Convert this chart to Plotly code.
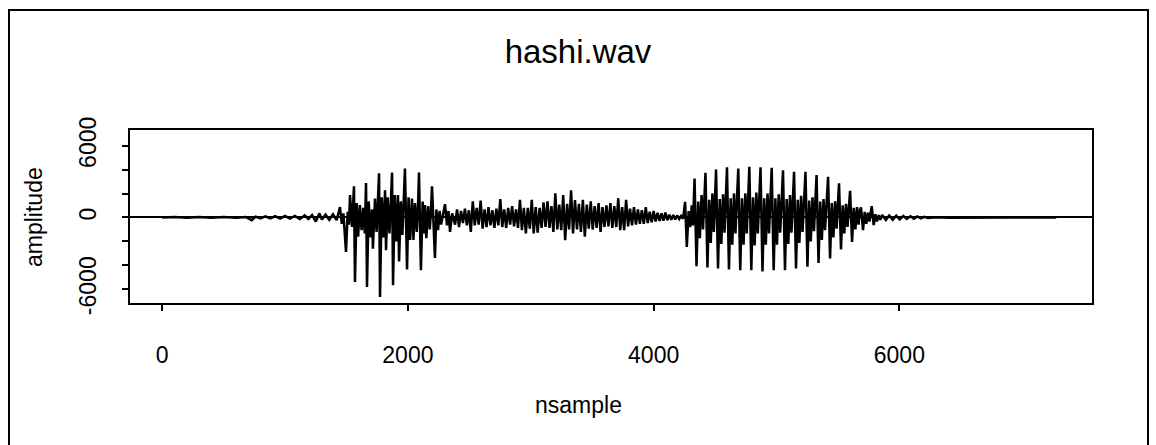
import plotly.graph_objects as go

# ---- waveform (sample index, amplitude) ----
pre_x = [0, 100, 200, 300, 400, 500, 600, 680, 728, 760, 800, 840, 880, 920, 960, 1000,
         1040, 1080, 1120, 1160, 1190, 1220, 1250, 1280, 1300, 1330, 1360, 1390, 1420]
pre_y = [0, 30, -30, 30, -30, 30, -30, 40, -230, 70, -70, 100, -80, 100, -100, 130,
         -100, 130, -130, 170, -130, 200, -340, 340, -170, 230, -200, 270, -230]

burst1_x = [1447, 1462, 1475, 1496, 1510, 1520, 1529, 1545,
            1561, 1569, 1583, 1595, 1609, 1623, 1637, 1649,
            1659, 1667, 1681, 1696, 1708, 1715, 1732, 1745, 1755,
            1765, 1773, 1787, 1800, 1814, 1822, 1835, 1850, 1862,
            1871, 1879, 1893, 1905, 1919, 1928, 1942, 1955, 1966,
            1976, 1993, 2005, 2018, 2033, 2045, 2058, 2072, 2082,
            2090, 2106, 2120, 2130, 2139, 2150, 2165, 2178, 2188,
            2196, 2220, 2232, 2245, 2258, 2270, 2288, 2302, 2318, 2330, 2343, 2360]
burst1_y = [870, -540, 340, -2880, 470, -600, 1880, -800,
            2610, -5400, 1210, -1610, 1030, -1070, 800, -1340,
            2880, -5810, 1340, -1680, 670, -2610, 1590, -1210, 1010,
            3690, -6650, 1680, -1680, 2280, -2750, 1680, -1340, 1210,
            3750, -5670, 1880, -2010, 1870, -3690, 1340, -1470, 1010,
            4090, -4360, 1680, -1880, 1590, -1880, 1210, -1210, 800,
            3750, -4420, 1340, -1340, 1030, -1740, 940, -1010, 600,
            2610, -3390, 670, -1070, 540, -600, 400, 1110, -670, 540, -1210, 340]

noise_x = [2384, 2400, 2416, 2432, 2448, 2464, 2480, 2496, 2512, 2528, 2544, 2560, 2576, 2592,
           2608, 2624, 2640, 2656, 2672, 2688, 2704, 2720, 2736, 2752, 2768, 2784, 2800, 2816,
           2832, 2848, 2864, 2880, 2896, 2912, 2928, 2944, 2960, 2976, 2992, 3008, 3024, 3040,
           3056, 3072, 3088, 3104, 3120, 3136, 3152, 3168, 3184, 3200, 3216, 3232, 3248, 3264,
           3280, 3296, 3312, 3328, 3344, 3360, 3376, 3392, 3408, 3424, 3440, 3456, 3472, 3488,
           3504, 3520, 3536, 3552, 3568, 3584, 3600, 3616, 3632, 3648, 3664, 3680, 3696, 3712,
           3728, 3744, 3760, 3776, 3792, 3808, 3824, 3840, 3856, 3872, 3888, 3904, 3920, 3936,
           3952, 3968, 3984, 4000, 4016, 4032, 4048, 4064, 4080, 4096, 4112, 4128, 4144, 4160,
           4176, 4192, 4208, 4224, 4240]
noise_y = [-600, 670, -800, 540, -470, 740, -670, 600, -1210, 1340, -670, 800, -600, 1410,
           -940, 670, -800, 870, -670, 600, -870, 740, -670, 1540, -800, 670, -870, 800,
           -600, 940, -740, 670, -870, 1470, -1070, 800, -1340, 800, -940, 1470, -1340, 870,
           -1270, 800, -870, 1270, -800, 1340, -870, 940, -1210, 2010, -1010, 1070, -1070, 1880,
           -1900, 1140, -1010, 2280, -1340, 1450, -1010, 1140, -1210, 1470, -1610, 1070, -940, 1340,
           -1010, 940, -870, 1210, -1210, 870, -800, 1010, -740, 1210, -870, 940, -800, 1610,
           -1070, 870, -1070, 1470, -740, 740, -670, 870, -600, 670, -540, 600, -540, 870,
           -470, 470, -400, 540, -340, 400, -300, 340, -270, 400, -230, 230, -200, 200,
           -170, 170, -130, 130, -100]

burst2_x = [4256, 4270, 4285, 4298, 4310, 4320,
            4333, 4349, 4363, 4376, 4390, 4402, 4412,
            4422, 4438, 4452, 4465, 4478, 4490, 4499,
            4508, 4524, 4538, 4551, 4565, 4577, 4588,
            4597, 4613, 4627, 4640, 4654, 4666, 4678,
            4689, 4705, 4719, 4732, 4746, 4758, 4769,
            4779, 4795, 4809, 4822, 4836, 4848, 4860,
            4870, 4886, 4900, 4913, 4927, 4939, 4951,
            4961, 4977, 4991, 5004, 5018, 5030, 5042,
            5053, 5069, 5083, 5096, 5110, 5122, 5133,
            5143, 5159, 5173, 5186, 5200, 5212, 5225,
            5236, 5252, 5266, 5279, 5293, 5305, 5316,
            5326, 5342, 5356, 5369, 5383, 5395, 5408,
            5420, 5436, 5450, 5463, 5477, 5489, 5499,
            5509, 5525, 5539, 5552, 5566, 5578, 5589,
            5599, 5615, 5629, 5642, 5656, 5668, 5678,
            5688, 5704, 5718, 5731, 5745, 5757, 5766,
            5775, 5791, 5805, 5818, 5832, 5845]
burst2_y = [1310, -2460, 540, -800, 1010, -670,
            3260, -4080, 1340, -1740, 1880, -1010, 940,
            3740, -4190, 1470, -2140, 2010, -1210, 1010,
            4020, -4270, 1540, -2210, 1940, -1270, 1070,
            4190, -4360, 1610, -2280, 2010, -1340, 1070,
            4100, -4420, 1610, -2280, 2010, -1340, 1070,
            4240, -4420, 1680, -2350, 2080, -1340, 1140,
            4190, -4520, 1610, -2280, 2010, -1340, 1070,
            4150, -4420, 1610, -2280, 1940, -1270, 1070,
            3950, -4420, 1540, -2210, 1880, -1270, 1010,
            3820, -4270, 1470, -2140, 1810, -1210, 1010,
            3820, -4130, 1410, -2010, 1680, -1140, 940,
            3540, -3800, 1340, -1880, 1540, -1070, 870,
            3400, -3440, 1210, -1680, 1340, -940, 800,
            2850, -2680, 1010, -1340, 1140, -800, 670,
            2230, -2040, 800, -1010, 870, -600, 540,
            840, -1070, 470, -540, 400, -340, 340,
            940, -640, 270, -340, 200, -200]

tail_x = [5860, 5890, 5918, 5946, 5975, 6003, 6032, 6060, 6090, 6118, 6146, 6175, 6203,
          6232, 6300, 6400, 6600, 6900, 7277]
tail_y = [200, -200, 170, -190, 150, -170, 130, -130, 100, -100, 80, -70, 50,
          -40, 20, -15, 10, 0, 0]

x_ticks = [0, 2000, 4000, 6000]
x_tick_labels = ["0", "2000", "4000", "6000"]
y_ticks = [-6000, -4000, -2000, 0, 2000, 4000, 6000]
y_tick_labels = ["-6000", "", "", "0", "", "", "6000"]

title_text = "hashi.wav"
x_label = "nsample"
y_label = "amplitude"

xs = pre_x + burst1_x + noise_x + burst2_x + tail_x
ys = pre_y + burst1_y + noise_y + burst2_y + tail_y

FONT = "Liberation Sans, Arial, sans-serif"

fig = go.Figure()
fig.add_trace(go.Scatter(x=xs, y=ys, mode="lines",
                         line=dict(color="black", width=2.5),
                         hoverinfo="skip", showlegend=False))

W, H = 1156, 445
L, R, T, B = 130, 64, 130, 142
pw, ph = W - L - R, H - T - B

def px_x(p):
    return (p - L) / pw

def px_y(p):
    return (H - B - p) / ph

fig.update_layout(
    width=W, height=H,
    margin=dict(l=L, r=R, t=T, b=B, pad=0),
    paper_bgcolor="white", plot_bgcolor="white",
    font=dict(family=FONT, color="black", size=23),
    title=dict(text=title_text, x=0.5, xref="container", xanchor="center",
               y=1 - 51 / H, yref="container", yanchor="middle",
               font=dict(family=FONT, size=33, color="black")),
    xaxis=dict(range=[-262, 7568], tickvals=x_ticks, ticktext=x_tick_labels,
               ticks="outside", ticklen=6, tickwidth=1.5, tickcolor="black",
               showline=True, linecolor="black", linewidth=2, mirror=True,
               showgrid=False, zeroline=False, ticklabelstandoff=24,
               tickfont=dict(family=FONT, size=23, color="black")),
    yaxis=dict(range=[-7157, 7316], tickvals=y_ticks, ticktext=y_tick_labels,
               ticks="outside", ticklen=6, tickwidth=1.5, tickcolor="black",
               showline=True, linecolor="black", linewidth=2, mirror=True,
               showgrid=False, zeroline=True, zerolinecolor="black", zerolinewidth=1.8,
               tickangle=-90, ticklabelstandoff=17,
               tickfont=dict(family=FONT, size=23, color="black")),
    shapes=[dict(type="rect", xref="paper", yref="paper",
                 x0=px_x(9), x1=px_x(1148), y0=px_y(452), y1=px_y(10),
                 line=dict(color="black", width=2), layer="below")],
    annotations=[
        dict(text=x_label, xref="paper", yref="paper", x=px_x(578), y=px_y(405),
             xanchor="center", yanchor="middle", showarrow=False,
             font=dict(family=FONT, size=23, color="black")),
        dict(text=y_label, xref="paper", yref="paper", x=px_x(34), y=px_y(217),
             xanchor="center", yanchor="middle", showarrow=False, textangle=-90,
             font=dict(family=FONT, size=23, color="black")),
    ],
)

fig.write_html("out.html")
